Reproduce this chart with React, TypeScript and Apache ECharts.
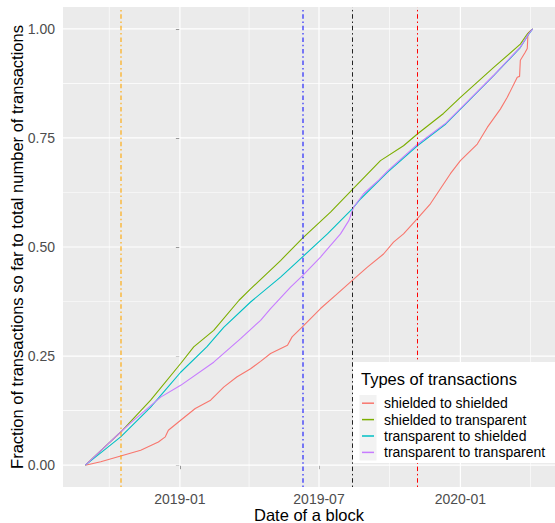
import React, { useEffect, useRef } from "react";
import * as echarts from "echarts";

const FONT = "'Liberation Sans', Arial, Helvetica, sans-serif";

const SERIES_NAMES = [
  "shielded to shielded",
  "shielded to transparent",
  "transparent to shielded",
  "transparent to transparent",
];
const SERIES_COLORS = ["#F8766D", "#7CAE00", "#00BFC4", "#C77CFF"];

const s2sDates = [
  "2018-08-31", "2018-09-20", "2018-10-16", "2018-11-11", "2018-12-04", "2018-12-13",
  "2018-12-17", "2019-01-02", "2019-01-21", "2019-02-10", "2019-02-27", "2019-03-16",
  "2019-04-03", "2019-04-16", "2019-04-29", "2019-05-21", "2019-05-27", "2019-06-11",
  "2019-07-03", "2019-07-25", "2019-08-13", "2019-09-02", "2019-09-23", "2019-10-06",
  "2019-10-19", "2019-11-06", "2019-11-23", "2019-12-19", "2020-01-01", "2020-01-23",
  "2020-02-05", "2020-02-22", "2020-03-02", "2020-03-15", "2020-03-18", "2020-03-19",
  "2020-03-25", "2020-03-28", "2020-03-29", "2020-04-04",
];
const s2sValues = [
  0, 0.008, 0.021, 0.034, 0.053, 0.065,
  0.08, 0.103, 0.13, 0.149, 0.179, 0.202,
  0.221, 0.238, 0.256, 0.275, 0.294, 0.32,
  0.359, 0.393, 0.423, 0.454, 0.484, 0.511,
  0.53, 0.565, 0.599, 0.668, 0.698, 0.736,
  0.774, 0.816, 0.843, 0.889, 0.891, 0.928,
  0.945, 0.955, 0.99, 1.0,
];

const s2tDates = [
  "2018-08-31", "2018-10-16", "2018-11-24", "2019-01-02", "2019-01-19", "2019-02-14",
  "2019-03-19", "2019-04-03", "2019-05-12", "2019-06-10", "2019-07-16", "2019-08-13",
  "2019-09-19", "2019-10-19", "2019-11-06", "2019-12-10", "2020-01-01", "2020-02-13",
  "2020-03-19", "2020-03-28", "2020-04-04",
];
const s2tValues = [
  0, 0.076, 0.149, 0.233, 0.271, 0.309,
  0.378, 0.404, 0.469, 0.521, 0.58, 0.631,
  0.698, 0.732, 0.759, 0.806, 0.843, 0.911,
  0.965, 0.988, 1.0,
];

const t2sDates = [
  "2018-08-31", "2018-10-16", "2018-11-24", "2018-12-13", "2019-01-02", "2019-02-05",
  "2019-02-27", "2019-04-03", "2019-05-12", "2019-06-10", "2019-07-12", "2019-08-13",
  "2019-08-24", "2019-09-28", "2019-11-06", "2019-12-13", "2020-01-14", "2020-02-13",
  "2020-03-19", "2020-03-30", "2020-04-04",
];
const t2sValues = [
  0, 0.065, 0.133, 0.172, 0.213, 0.271,
  0.316, 0.374, 0.431, 0.478, 0.53, 0.587,
  0.61, 0.671, 0.732, 0.782, 0.839, 0.892,
  0.957, 0.988, 1.0,
];

const t2tDates = [
  "2018-08-31", "2018-10-16", "2018-10-29", "2018-12-07", "2019-01-02", "2019-02-14",
  "2019-03-21", "2019-04-16", "2019-04-29", "2019-05-25", "2019-06-10", "2019-07-03",
  "2019-07-29", "2019-08-09", "2019-08-15", "2019-08-28", "2019-09-17", "2019-09-28",
  "2019-11-06", "2019-12-13", "2020-01-14", "2020-02-13", "2020-03-19", "2020-03-30",
  "2020-04-04",
];
const t2tValues = [
  0, 0.076, 0.097, 0.156, 0.183, 0.236,
  0.29, 0.332, 0.359, 0.408, 0.435, 0.477,
  0.53, 0.561, 0.591, 0.622, 0.654, 0.674,
  0.735, 0.784, 0.84, 0.893, 0.958, 0.989,
  1.0,
];

const vlineDates = ["2018-10-16", "2019-06-10", "2019-08-13", "2019-11-06"];
const vlineColors = ["rgba(255,165,0,0.55)", "rgba(0,0,255,0.5)", "#222222", "#FF0000"];
const vlineWidths = [2, 2, 1, 1];

const xTickDates = ["2019-01-01", "2019-07-01", "2020-01-01"];
const xTickLabels = ["2019-01", "2019-07", "2020-01"];
const xMinorDates = ["2018-10-01", "2019-04-01", "2019-10-01", "2020-04-01"];
const yTicks = [0, 0.25, 0.5, 0.75, 1];
const yMinor = [0.125, 0.375, 0.625, 0.875];

const ORIGIN = Date.UTC(2019, 0, 1);
const toDay = (s: string) => {
  const [y, m, d] = s.split("-").map(Number);
  return (Date.UTC(y, m - 1, d) - ORIGIN) / 86400000;
};

const ALL_DATES = [s2sDates, s2tDates, t2sDates, t2tDates];
const ALL_VALUES = [s2sValues, s2tValues, t2sValues, t2tValues];

const Y_MIN = -0.05;
const Y_MAX = 1.05;
const GRID = { left: 63, top: 7, width: 492, height: 480 };

export default function App() {
  const ref = useRef<HTMLDivElement>(null);
  useEffect(() => {
    if (!ref.current) return;
    const chart = echarts.init(ref.current, null, { renderer: "svg" });

    const allDays = ALL_DATES.flat().map(toDay);
    const dMin = Math.min(...allDays);
    const dMax = Math.max(...allDays);
    const pad = (dMax - dMin) * 0.05;
    const xMin = dMin - pad;
    const xMax = dMax + pad;

    const tickDays = xTickDates.map(toDay);
    const minorDays = xMinorDates.map(toDay);

    // grid lines as thin white filled bands (half-widths in data units)
    const dayPerPx = (xMax - xMin) / GRID.width;
    const valPerPx = (Y_MAX - Y_MIN) / GRID.height;
    const bands: any[] = [];
    const xBand = (d: number, px: number) =>
      bands.push([{ xAxis: d - (px / 2) * dayPerPx }, { xAxis: d + (px / 2) * dayPerPx }]);
    const yBand = (v: number, px: number) =>
      bands.push([{ yAxis: v - (px / 2) * valPerPx }, { yAxis: v + (px / 2) * valPerPx }]);
    minorDays.forEach((d) => xBand(d, 0.6));
    yMinor.forEach((v) => yBand(v, 0.6));
    tickDays.forEach((d) => xBand(d, 1.2));
    yTicks.forEach((v) => yBand(v, 1.2));

    const dataSeries = SERIES_NAMES.map((name, i) => ({
      name,
      type: "line",
      data: ALL_DATES[i].map((d, j) => [toDay(d), ALL_VALUES[i][j]]),
      showSymbol: false,
      symbol: "none",
      lineStyle: { color: SERIES_COLORS[i], width: 1.1 },
      itemStyle: { color: SERIES_COLORS[i] },
      emphasis: { disabled: true },
      z: 3,
    }));

    const labelStyle = { fontSize: 14, fontFamily: FONT, color: "#4D4D4D" };

    chart.setOption({
      animation: false,
      grid: {
        ...GRID,
        show: true,
        backgroundColor: "#EBEBEB",
        borderWidth: 0,
        containLabel: false,
        outerBoundsMode: "none",
      },
      xAxis: {
        type: "value",
        min: xMin,
        max: xMax,
        axisLine: { show: false },
        splitLine: { show: false },
        axisTick: {
          show: true,
          customValues: tickDays,
          length: 4,
          lineStyle: { color: "#333333", width: 1 },
        },
        axisLabel: {
          ...labelStyle,
          customValues: tickDays,
          margin: 5,
          formatter: (v: number) => {
            const k = tickDays.findIndex((t) => Math.abs(t - v) < 0.5);
            return k >= 0 ? xTickLabels[k] : "";
          },
        },
        name: "Date of a block",
        nameLocation: "middle",
        nameGap: 19,
        nameMoveOverlap: false,
        nameTextStyle: { fontSize: 16.5, fontFamily: FONT, color: "#000000", verticalAlign: "top" },
      },
      yAxis: {
        type: "value",
        min: Y_MIN,
        max: Y_MAX,
        axisLine: { show: false },
        splitLine: { show: false },
        axisTick: {
          show: true,
          customValues: yTicks,
          length: 4,
          lineStyle: { color: "#333333", width: 1 },
        },
        axisLabel: {
          ...labelStyle,
          customValues: yTicks,
          margin: 8,
          formatter: (v: number) => v.toFixed(2),
        },
        name: "Fraction of transactions so far to total number of transactions",
        nameLocation: "middle",
        nameGap: 38,
        nameMoveOverlap: false,
        nameTextStyle: { fontSize: 16.5, fontFamily: FONT, color: "#000000" },
      },
      legend: {
        data: SERIES_NAMES,
        orient: "vertical",
        left: 362,
        top: 395,
        padding: 0,
        itemGap: 0,
        itemWidth: 12,
        itemHeight: 1.5,
        icon: "rect",
        selectedMode: false,
        z: 20,
        textStyle: {
          fontSize: 14,
          fontFamily: FONT,
          color: "#000000",
          lineHeight: 16.4,
          padding: [0, 0, 0, 5],
        },
      },
      graphic: [
        { type: "rect", z: 15, shape: { x: 353, y: 362, width: 202, height: 101 }, style: { fill: "#FFFFFF" } },
        { type: "rect", z: 16, shape: { x: 359.5, y: 395, width: 17, height: 65.6 }, style: { fill: "#F2F2F2" } },
        {
          type: "text",
          z: 17,
          x: 361,
          y: 379,
          style: {
            text: "Types of transactions",
            fontSize: 16.5,
            fontFamily: FONT,
            fill: "#000000",
            verticalAlign: "middle",
          },
        },
      ],
      series: [
        {
          name: "grid-bands",
          type: "line",
          data: [],
          z: 2,
          silent: true,
          markArea: {
            silent: true,
            label: { show: false },
            emphasis: { disabled: true },
            itemStyle: { color: "#FFFFFF", opacity: 1, borderWidth: 0 },
            data: bands,
          },
        },
        ...dataSeries,
        {
          name: "events",
          type: "line",
          data: [],
          z: 4,
          silent: true,
          markLine: {
            silent: true,
            symbol: ["none", "none"],
            label: { show: false },
            emphasis: { disabled: true },
            animation: false,
            data: vlineDates.map((d, i) => ({
              xAxis: toDay(d),
              lineStyle: { color: vlineColors[i], width: vlineWidths[i], type: [1.5, 2.8, 4.5, 2.8] },
            })),
          },
        },
      ],
    });
    return () => chart.dispose();
  }, []);
  return (
    <div
      ref={ref}
      style={{ position: "absolute", left: 0, top: 0, width: 555, height: 523 }}
    />
  );
}
